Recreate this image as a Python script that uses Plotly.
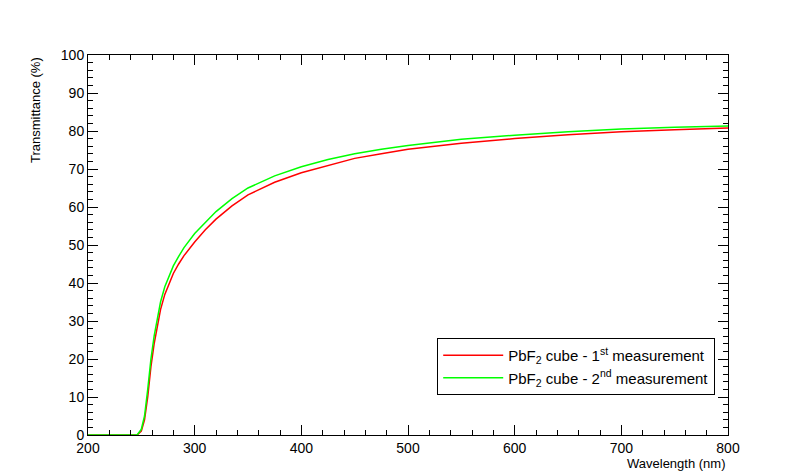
import plotly.graph_objects as go

wl = [200, 240, 246, 250, 253, 256, 259, 262, 265, 268, 272, 276, 280, 285, 290, 300, 310, 320, 335, 350, 375, 400, 425, 450, 475, 500, 550, 600, 650, 700, 750, 800]
red = [0, 0, 0, 1, 4, 10, 18, 24, 29, 33, 37, 40, 42.5, 45, 47.2, 50.8, 54, 56.8, 60.3, 63.2, 66.5, 69, 71, 72.8, 74, 75.2, 76.8, 78, 79, 79.8, 80.3, 80.8]
green = [0, 0, 0, 1.5, 5, 12, 20, 26, 31, 35, 39, 42, 44.5, 47, 49.3, 53, 56, 58.8, 62.2, 65, 68.2, 70.6, 72.5, 74, 75.2, 76.2, 77.8, 78.9, 79.8, 80.5, 81, 81.3]

fig = go.Figure()
fig.add_trace(go.Scatter(x=wl, y=red, mode="lines", line=dict(color="#ff0000", width=1.5),
                         name="PbF<sub>2</sub> cube - 1<sup>st</sup> measurement"))
fig.add_trace(go.Scatter(x=wl, y=green, mode="lines", line=dict(color="#00ff00", width=1.5),
                         name="PbF<sub>2</sub> cube - 2<sup>nd</sup> measurement"))

ax = dict(showgrid=False, zeroline=False, showline=True, linecolor="black", linewidth=1,
          mirror="allticks", ticks="inside", ticklen=10, tickcolor="black", automargin=False,
          minor=dict(ticks="inside", ticklen=5, tickcolor="black"),
          tickfont=dict(family="Liberation Sans, Arial", size=14, color="black"))
fig.update_xaxes(**ax, range=[200, 800], dtick=100, minor_dtick=20)
fig.update_yaxes(**ax, range=[0, 100], dtick=10, minor_dtick=2)
fig.update_layout(width=800, height=475, paper_bgcolor="white", plot_bgcolor="white",
                  margin=dict(l=80, r=80, t=47, b=48),
                  font=dict(family="Liberation Sans, Arial", color="black"),
                  annotations=[
                      dict(text="Wavelength (nm)", xref="paper", yref="paper", x=1, y=-0.05,
                           xanchor="right", yanchor="top", showarrow=False, font=dict(size=13)),
                      dict(text="Transmittance (%)", xref="paper", yref="paper", x=-0.068, y=1,
                           xanchor="right", yanchor="top", textangle=-90, showarrow=False,
                           font=dict(size=13)),
                  ],
                  legend=dict(x=0.98, y=0.255, xanchor="right", yanchor="top",
                              bordercolor="black", borderwidth=1, bgcolor="white",
                              font=dict(size=15), itemwidth=60, tracegroupgap=14))
fig.write_html("out.html")
